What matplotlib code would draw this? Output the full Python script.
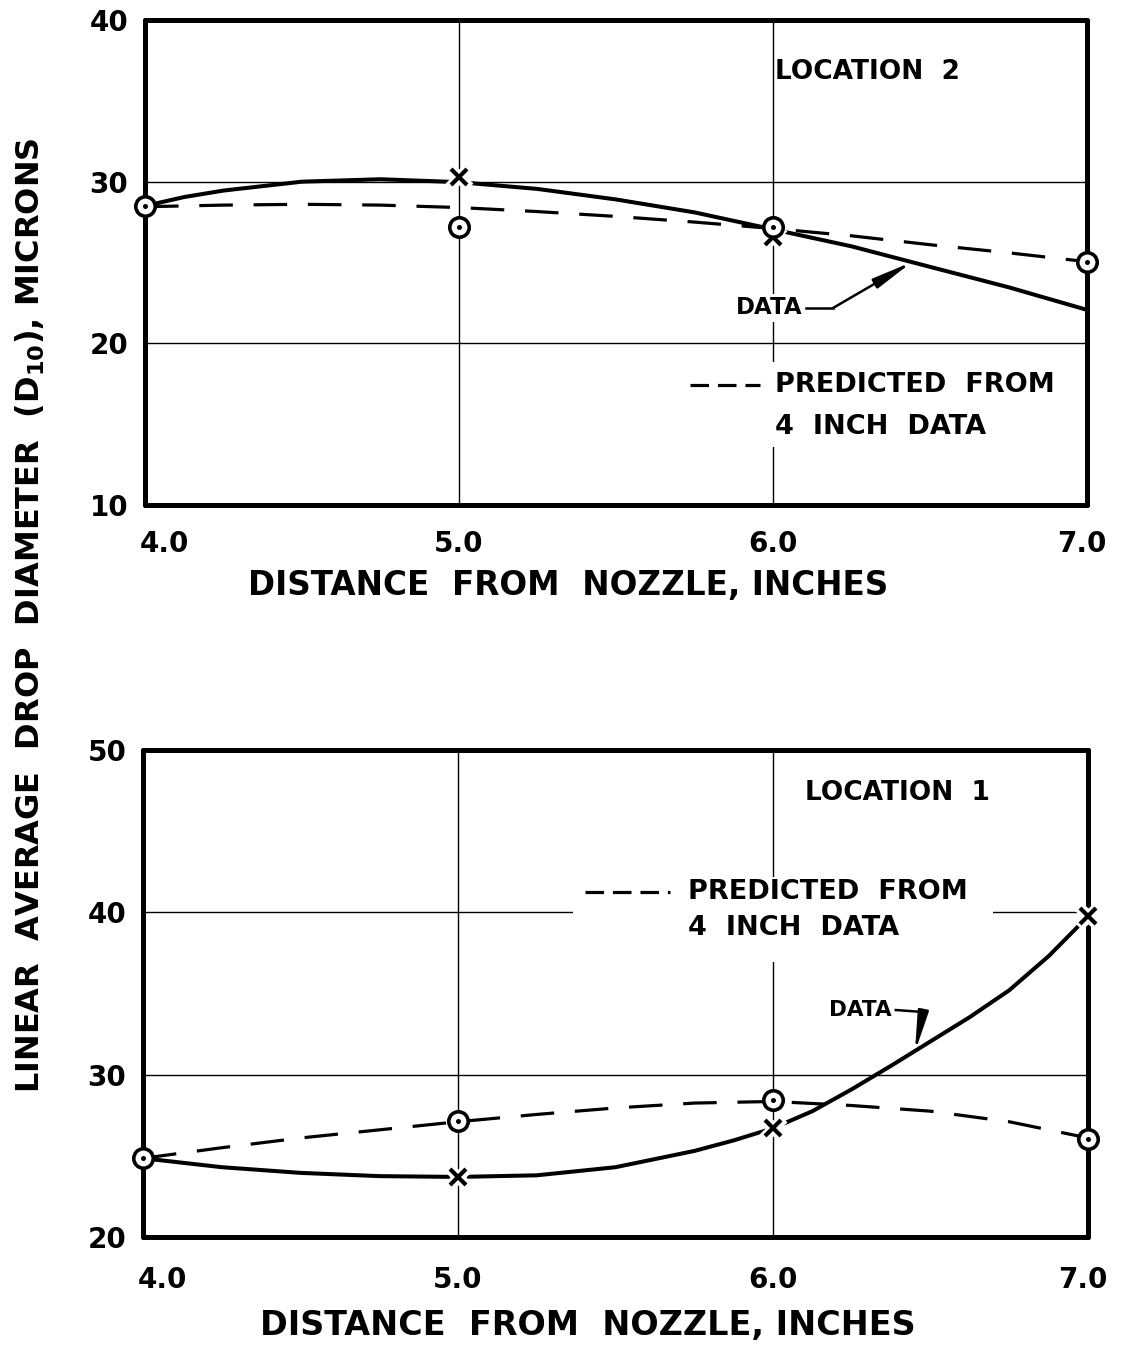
import matplotlib
matplotlib.use("Agg")
import matplotlib.pyplot as plt
from matplotlib.patches import Rectangle
import matplotlib.transforms as mtransforms

plt.rcParams['font.family'] = ['DejaVu Sans']
plt.rcParams['font.weight'] = 'bold'
plt.rcParams['mathtext.fontset'] = 'dejavusans'

# ---------------- data ----------------
x_ticks = [4.0, 5.0, 6.0, 7.0]
x_tick_labels = ["4.0", "5.0", "6.0", "7.0"]

# Location 2 (top)
top_y_ticks = [10, 20, 30, 40]
top_circle_x = [4.0, 5.0, 6.0, 7.0]
top_circle_y = [28.5, 27.2, 27.2, 25.05]
top_cross_x = [5.0, 6.0]
top_cross_y = [30.3, 26.55]
top_data_x = [4.0, 4.125, 4.25, 4.5, 4.75, 5.0, 5.25, 5.5, 5.75, 6.0, 6.25, 6.5, 6.75, 7.0]
top_data_y = [28.5, 29.05, 29.45, 30.0, 30.15, 29.97, 29.55, 28.9, 28.1, 27.05, 26.0, 24.73, 23.47, 22.07]
top_pred_x = [4.0, 4.25, 4.5, 4.75, 5.0, 5.25, 5.5, 5.75, 6.0, 6.25, 6.5, 6.75, 7.0]
top_pred_y = [28.45, 28.55, 28.6, 28.55, 28.4, 28.15, 27.85, 27.5, 27.1, 26.65, 26.1, 25.6, 25.05]

# Location 1 (bottom)
bot_y_ticks = [20, 30, 40, 50]
bot_circle_x = [4.0, 5.0, 6.0, 7.0]
bot_circle_y = [24.85, 27.15, 28.45, 26.05]
bot_cross_x = [5.0, 6.0, 7.0]
bot_cross_y = [23.7, 26.7, 39.75]
bot_data_x = [4.0, 4.25, 4.5, 4.75, 5.0, 5.25, 5.5, 5.75, 5.875, 6.0, 6.125, 6.25, 6.375, 6.5, 6.625, 6.75, 6.875, 7.0]
bot_data_y = [24.85, 24.3, 23.95, 23.75, 23.7, 23.8, 24.3, 25.3, 25.95, 26.7, 27.75, 29.1, 30.55, 32.05, 33.55, 35.2, 37.3, 39.75]
bot_pred_x = [4.0, 4.25, 4.5, 4.75, 5.0, 5.25, 5.5, 5.75, 6.0, 6.25, 6.5, 6.75, 6.875, 7.0]
bot_pred_y = [24.85, 25.5, 26.1, 26.6, 27.1, 27.55, 27.95, 28.25, 28.35, 28.1, 27.75, 27.1, 26.6, 26.1]

# ---------------- figure ----------------
W, H = 1128, 1354
fig = plt.figure(figsize=(W / 100, H / 100), dpi=100)
fig.patch.set_facecolor('white')


def px_axes(l, t, r, b):
    return fig.add_axes([l / W, 1 - b / H, (r - l) / W, (b - t) / H])


ax_top = px_axes(145, 20, 1087, 505)
ax_bot = px_axes(143, 750, 1088, 1237)

LW_CURVE = 2.9
LW_DASH = 2.3


def style_axes(ax, yticks, ylim, xpad):
    ax.set_xlim(4.0, 7.0)
    ax.set_ylim(*ylim)
    ax.set_xticks(x_ticks)
    ax.set_xticklabels(x_tick_labels, fontsize=20, fontweight='bold')
    ax.set_yticks(yticks)
    ax.set_yticklabels([str(v) for v in yticks], fontsize=20, fontweight='bold')
    ax.tick_params(axis='both', length=0)
    ax.tick_params(axis='x', pad=xpad)
    ax.tick_params(axis='y', pad=12)
    for s in ax.spines.values():
        s.set_linewidth(3.6)
        s.set_capstyle('round')
        s.set_joinstyle('round')
    ax.grid(True, color='black', linewidth=1.0)
    ax.set_axisbelow(True)
    labels = ax.get_xticklabels()
    off_l = mtransforms.ScaledTranslation(0.19, 0, fig.dpi_scale_trans)
    off_r = mtransforms.ScaledTranslation(-0.05, 0, fig.dpi_scale_trans)
    labels[0].set_transform(labels[0].get_transform() + off_l)
    labels[-1].set_transform(labels[-1].get_transform() + off_r)


def draw_series(ax, dx, dy, px_, py_, cx, cy, ox, oy):
    ax.plot(px_, py_, color='black', lw=LW_DASH, dashes=(10.5, 6.5), zorder=2,
            solid_capstyle='butt')
    ax.plot(dx, dy, color='black', lw=LW_CURVE, zorder=2.1,
            solid_joinstyle='round', solid_capstyle='round')
    # crosses with white halo
    ax.plot(cx, cy, ls='none', marker='x', ms=15, mew=8, color='white',
            zorder=3, clip_on=False)
    ax.plot(cx, cy, ls='none', marker='x', ms=12, mew=3, color='black',
            zorder=3.1, clip_on=False)
    # circled dots
    ax.plot(ox, oy, ls='none', marker='o', ms=14, mew=2.6, mfc='white',
            mec='black', zorder=4, clip_on=False)
    ax.plot(ox, oy, ls='none', marker='o', ms=3.6, mew=0, color='black',
            zorder=4.1, clip_on=False)


style_axes(ax_top, top_y_ticks, (10, 40), 18)
style_axes(ax_bot, bot_y_ticks, (20, 50), 21)

draw_series(ax_top, top_data_x, top_data_y, top_pred_x, top_pred_y,
            top_cross_x, top_cross_y, top_circle_x, top_circle_y)
draw_series(ax_bot, bot_data_x, bot_data_y, bot_pred_x, bot_pred_y,
            bot_cross_x, bot_cross_y, bot_circle_x, bot_circle_y)

TXT = dict(fontweight='bold', color='black')


def annotate_panel(ax, loc_text, loc_xy, rect, dash_x, pred_xy, inch_xy,
                   data_xy, bend, tip, data_fs):
    T = ax.transAxes
    ax.text(loc_xy[0], loc_xy[1], loc_text, transform=T, ha='left',
            va='center', fontsize=19, zorder=5, **TXT)
    ax.add_patch(Rectangle((rect[0], rect[1]), rect[2] - rect[0],
                           rect[3] - rect[1], transform=T, facecolor='white',
                           edgecolor='none', zorder=1))
    ax.plot(dash_x, [pred_xy[1], pred_xy[1]], transform=T, color='black',
            lw=2.3, dashes=(5.8, 2.8), zorder=5, solid_capstyle='butt')
    ax.text(pred_xy[0], pred_xy[1], "PREDICTED  FROM", transform=T,
            ha='left', va='center', fontsize=19.5, zorder=5, **TXT)
    ax.text(inch_xy[0], inch_xy[1], "4  INCH  DATA", transform=T,
            ha='left', va='center', fontsize=19.5, zorder=5, **TXT)
    ax.text(data_xy[0], data_xy[1], "DATA", transform=T, ha='right',
            va='center', fontsize=data_fs, zorder=5,
            bbox=dict(facecolor='white', edgecolor='none', pad=2), **TXT)
    ax.plot([data_xy[0] + 0.004, bend[0]], [data_xy[1], bend[1]], transform=T,
            color='black', lw=1.8, zorder=5)
    ax.annotate('', xy=tip, xytext=bend, xycoords=T, textcoords=T,
                arrowprops=dict(arrowstyle='-|>,head_length=1.2,head_width=0.16',
                                lw=1.8, color='black', shrinkA=0, shrinkB=0,
                                mutation_scale=20), zorder=5)


annotate_panel(ax_top, "LOCATION  2", (0.6688, 0.8928),
               (0.573, 0.1196, 0.977, 0.2948),
               [0.5786, 0.6529], (0.6688, 0.2474), (0.6688, 0.1608),
               (0.6975, 0.4062), (0.7304, 0.4062), (0.8142, 0.5010), 16.5)

annotate_panel(ax_bot, "LOCATION  1", (0.7005, 0.9117),
               (0.455, 0.5647, 0.8995, 0.7392),
               [0.4677, 0.5577], (0.5767, 0.7084), (0.5767, 0.6345),
               (0.7926, 0.4661), (0.8254, 0.4620), (0.8169, 0.3800), 15.5)

fig.text(568 / W, 1 - 585 / H, "DISTANCE  FROM  NOZZLE, INCHES",
         ha='center', va='center', fontsize=23.5, **TXT)
fig.text(588 / W, 1 - 1325 / H, "DISTANCE  FROM  NOZZLE, INCHES",
         ha='center', va='center', fontsize=24, **TXT)
fig.text(30 / W, 1 - 615 / H,
         r"LINEAR  AVERAGE  DROP  DIAMETER  (D$_{\mathbf{10}}$), MICRONS",
         rotation=90, ha='center', va='center', fontsize=23, **TXT)

fig.savefig("out.png", dpi=100, facecolor='white')
